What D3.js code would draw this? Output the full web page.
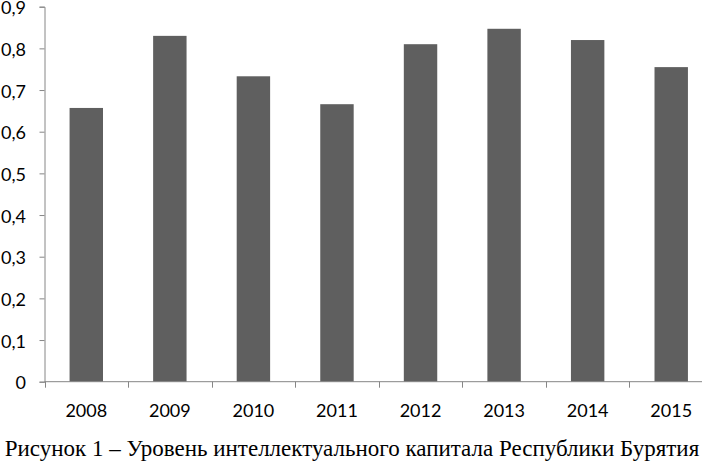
<!DOCTYPE html>
<html>
<head>
<meta charset="utf-8">
<script src="https://cdn.jsdelivr.net/npm/d3@7"></script>
<style>
  body { margin: 0; background: #fff; }
  svg { display: block; }
</style>
</head>
<body>
<svg id="chart" width="702" height="462"></svg>
<script>
// data
const years = ["2008", "2009", "2010", "2011", "2012", "2013", "2014", "2015"];
const values = [0.657, 0.83, 0.733, 0.666, 0.81, 0.847, 0.82, 0.755];
const yTicks = [0, 0.1, 0.2, 0.3, 0.4, 0.5, 0.6, 0.7, 0.8, 0.9];
const caption = "Рисунок 1 – Уровень интеллектуального капитала Республики Бурятия";

const svg = d3.select("#chart");

// scales (right edge runs past the window, as in the source)
let x = d3.scaleBand().domain(years).range([44.5, 713]).paddingInner(0.6).paddingOuter(0.3);
let y = d3.scaleLinear().domain([0, 0.9]).range([381.7, 6.7]);

const fmt = d => d === 0 ? "0" : d3.format(".1f")(d).replace(".", ",");
const tickFont = "Lato, 'Open Sans', sans-serif";

// bars
svg.selectAll("rect.bar")
    .data(values)
    .enter()
    .append("rect")
    .attr("class", "bar")
    .attr("x", (d, i) => x(years[i]))
    .attr("width", x.bandwidth())
    .attr("y", d => y(d))
    .attr("height", d => y(0) - y(d))
    .attr("fill", "#5f5f5f");

// y axis
let yAxis = svg.append("g")
    .attr("transform", "translate(44.5,0)")
    .call(d3.axisLeft(y).tickValues(yTicks).tickFormat(fmt).tickSize(5).tickPadding(13.5));
yAxis.select(".domain").attr("stroke", "#868686");
yAxis.selectAll(".tick line").attr("stroke", "#868686");
yAxis.selectAll("text")
    .attr("fill", "#000")
    .attr("dy", "0.4em")
    .style("font-family", tickFont)
    .style("font-size", "18px");

// x axis: ticks sit between categories
let step = x.step();
let xAxisG = svg.append("g").attr("transform", `translate(0,${y(0)})`);
xAxisG.append("line")
    .attr("x1", 44.5).attr("x2", 713)
    .attr("stroke", "#868686");
xAxisG.selectAll("line.tk")
    .data(d3.range(years.length + 1))
    .enter()
    .append("line")
    .attr("class", "tk")
    .attr("x1", i => Math.round(44.5 + i * step) + 0.5)
    .attr("x2", i => Math.round(44.5 + i * step) + 0.5)
    .attr("y1", 0).attr("y2", 6)
    .attr("stroke", "#868686");
xAxisG.selectAll("text")
    .data(years)
    .enter()
    .append("text")
    .attr("x", d => x(d) + x.bandwidth() / 2)
    .attr("y", 35.3)
    .attr("text-anchor", "middle")
    .attr("fill", "#000")
    .style("font-family", tickFont)
    .style("font-size", "18px")
    .text(d => d);

// caption
svg.append("text")
    .attr("x", 352)
    .attr("y", 456)
    .attr("text-anchor", "middle")
    .style("font-family", "'Liberation Serif', 'Times New Roman', serif")
    .style("font-size", "23px")
    .attr("fill", "#000")
    .text(caption);
</script>
</body>
</html>
